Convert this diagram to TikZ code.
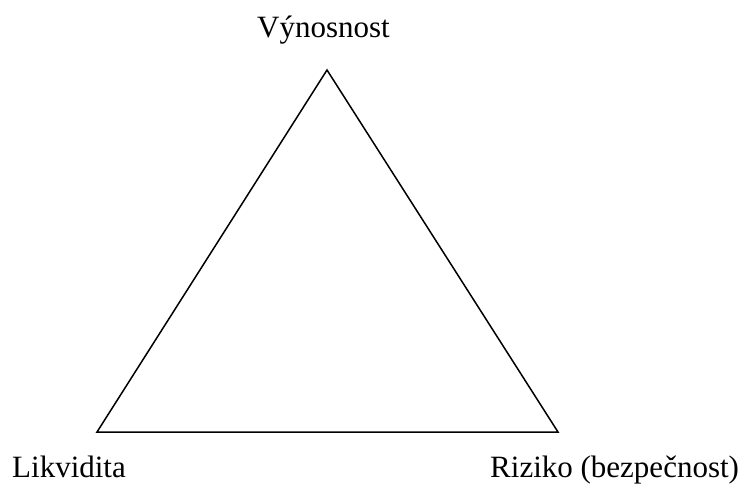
\documentclass[tikz,border=0pt]{standalone}
\usepackage{fontspec}
\setmainfont{Liberation Serif}
\tikzset{
    vrchol/.style={inner sep=0pt, anchor=base west, font=\fontsize{31}{36}\selectfont},
}
\begin{document}
\begin{tikzpicture}[x=1pt, y=-1pt, line join=miter]
    \useasboundingbox (0, 0) rectangle (743, 483);

    % Vrcholy trojúhelníku
    \coordinate (vyn) at (327, 70);
    \coordinate (likv) at (97, 432);
    \coordinate (rizi) at (558, 432);

    % Trojúhelník
    \draw[line width=1.5pt] (vyn) -- (rizi) -- (likv) -- cycle;

    % Popisky vrcholů
    \node[vrchol] (tvyn) at (257, 37) {Výnosnost};
    \node[vrchol] (tlikv) at (12, 477) {Likvidita};
    \node[vrchol] (trizi) at (490, 477) {Riziko (bezpečnost)};
\end{tikzpicture}
\end{document}
